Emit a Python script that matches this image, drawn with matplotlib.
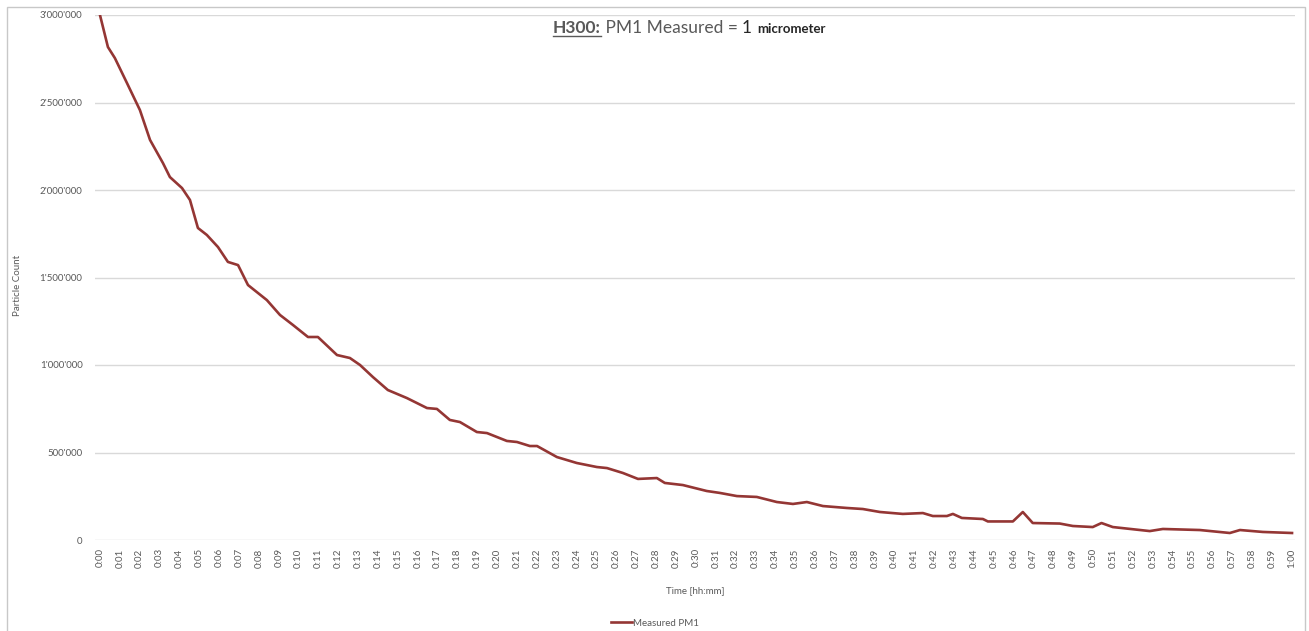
import matplotlib
matplotlib.use("Agg")
import matplotlib.pyplot as plt
from matplotlib.lines import Line2D
from matplotlib.patches import Rectangle

plt.rcParams['font.family'] = ['Lato', 'DejaVu Sans']

# time in minutes since start, measured PM1 particle count
minutes = [0.0, 0.40, 0.75, 1.36, 2.01, 2.52, 3.17, 3.52, 4.13, 4.53, 4.93, 5.38,
           5.94, 6.44, 6.95, 7.45, 8.40, 9.06, 9.71, 10.47, 10.97, 11.93, 12.58,
           13.09, 13.74, 14.49, 15.45, 16.46, 16.96, 17.61, 18.12, 18.97, 19.48,
           20.48, 20.99, 21.64, 22.0, 23.0, 24.0, 25.01, 25.52, 26.32, 27.08,
           28.03, 28.43, 29.34, 30.54, 31.20, 32.06, 33.06, 34.07, 34.88, 35.58,
           36.39, 37.59, 38.40, 39.26, 40.41, 41.42, 41.92, 42.63, 42.93, 43.38,
           44.44, 44.69, 45.95, 46.45, 46.95, 48.31, 48.97, 49.97, 50.41, 50.98,
           52.84, 53.50, 55.36, 56.87, 57.38, 58.53, 60.0]
counts = [3000000, 2817000, 2754000, 2611000, 2457000, 2286000, 2154000, 2074000,
          2011000, 1943000, 1783000, 1743000, 1674000, 1589000, 1571000, 1457000,
          1371000, 1286000, 1229000, 1160000, 1160000, 1057000, 1040000, 1000000,
          931000, 857000, 811000, 754000, 749000, 686000, 674000, 617000, 611000,
          566000, 560000, 537000, 537000, 474000, 440000, 417000, 411000, 383000,
          349000, 354000, 326000, 314000, 280000, 269000, 251000, 246000, 217000,
          206000, 217000, 194000, 183000, 177000, 160000, 149000, 154000, 137000,
          137000, 149000, 126000, 120000, 106000, 106000, 160000, 97000, 94000,
          80000, 74000, 97000, 74000, 51000, 63000, 57000, 40000, 57000, 46000,
          40000]

tick_minutes = list(range(0, 61))
tick_labels = [f"{m // 60}:{m % 60:02d}" for m in tick_minutes]
y_ticks = [0, 500000, 1000000, 1500000, 2000000, 2500000, 3000000]

W, H = 1309, 631
fig = plt.figure(figsize=(W / 100, H / 100), dpi=100)
fig.patch.set_facecolor('white')

# outer chart border
fig.patches.append(Rectangle((7 / W, -0.02), (1305 - 7) / W, 1 - 7 / H + 0.02,
                             transform=fig.transFigure, fill=False,
                             edgecolor='#c8c8c8', lw=1.0))

left_px, right_px, top_px, bottom_px = 95, 1295, 15, 540
ax = fig.add_axes([left_px / W, 1 - bottom_px / H, (right_px - left_px) / W,
                   (bottom_px - top_px) / H])

line_color = '#943634'
ax.plot(minutes, counts, color=line_color, lw=1.9, label='Measured PM1',
        solid_joinstyle='round', zorder=3)

ax.set_xlim(-0.25, 60.15)
ax.set_ylim(0, 3000000)
ax.set_yticks(y_ticks)
ax.set_yticklabels([f"{v:,}".replace(',', "'") for v in y_ticks])
ax.set_xticks(tick_minutes)
ax.set_xticklabels(tick_labels, rotation=90)
ax.tick_params(axis='both', length=0, labelsize=7, labelcolor='#595959')
ax.tick_params(axis='y', pad=9)
ax.tick_params(axis='x', pad=6)
for s in ax.spines.values():
    s.set_visible(False)
ax.grid(axis='y', color='#d9d9d9', lw=1.0)
ax.set_axisbelow(True)

fig.text(18 / W, 1 - 285 / H, 'Particle Count', rotation=90, ha='center',
         va='center', fontsize=7, color='#595959')
fig.text(695 / W, 1 - 591 / H, 'Time [hh:mm]', ha='center', va='center',
         fontsize=7, color='#595959')

leg = fig.legend(handles=[Line2D([], [], color=line_color, lw=1.9)],
                 labels=['Measured PM1'], loc='center',
                 bbox_to_anchor=(655 / W, 1 - 623 / H), frameon=False,
                 fontsize=7, handlelength=2.2, handletextpad=0.1,
                 labelcolor='#595959')

# title made of pieces
renderer = fig.canvas.get_renderer()
pieces = [("H300:", dict(fontsize=12.5, fontweight='bold', color='#595959')),
          (" PM1 Measured = ", dict(fontsize=12.5, color='#595959')),
          ("1 ", dict(fontsize=12.5, color='#262626')),
          ("micrometer", dict(fontsize=9.5, fontweight='bold', color='#262626'))]
x_px = 553
base_px = H - 33
texts = []
for s, kw in pieces:
    t = fig.text(x_px / W, base_px / H, s, ha='left', va='baseline', **kw)
    bb = t.get_window_extent(renderer=renderer)
    texts.append((t, x_px, bb.width))
    x_px += bb.width
# underline first piece
t0, x0, w0 = texts[0]
fig.add_artist(Line2D([x0 / W, (x0 + w0) / W], [(base_px - 2.5) / H] * 2,
                      transform=fig.transFigure, color='#595959', lw=1.0))

fig.savefig('out.png', dpi=100, facecolor='white')
